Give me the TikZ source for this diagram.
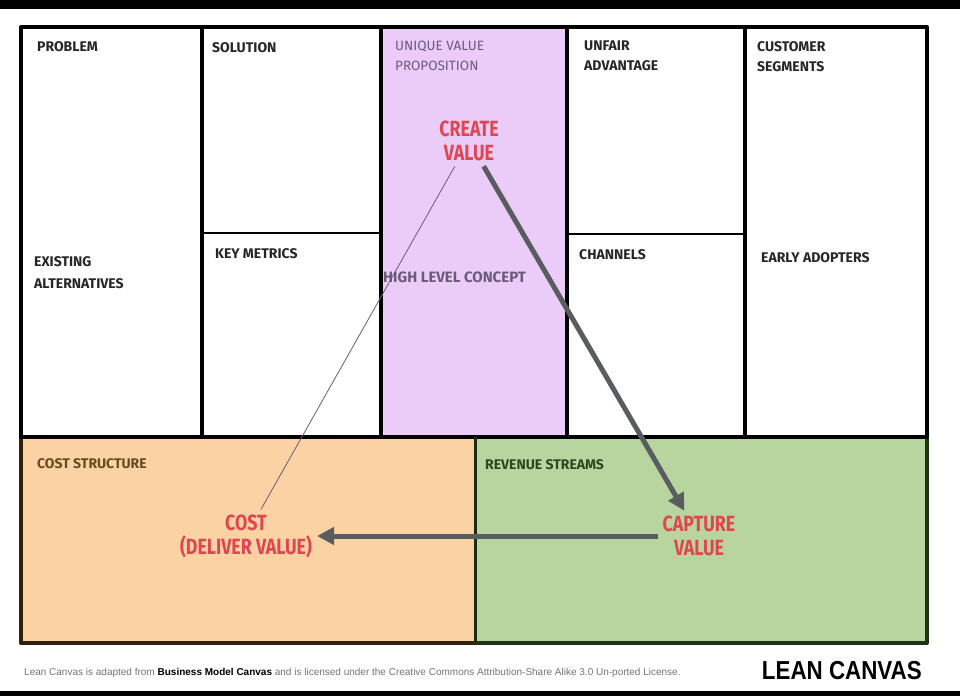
\documentclass[tikz,border=0pt]{standalone}
\usepackage{fontspec}
\setmainfont{Fira Sans}
\newfontfamily\narrowfont[FakeStretch=0.81]{Fira Sans}
\newfontfamily\footfont{Liberation Sans}
\newfontfamily\titlefont[FakeStretch=0.86]{Liberation Sans}
\usetikzlibrary{arrows.meta}

\definecolor{uvpfill}{HTML}{EBCBF8}
\definecolor{costfill}{HTML}{FBD2A4}
\definecolor{revfill}{HTML}{B9D59F}
\definecolor{valred}{HTML}{E04650}
\definecolor{flowgray}{HTML}{595D60}
\definecolor{uvptext}{HTML}{6C5A7A}
\definecolor{costtext}{HTML}{6A4A20}
\definecolor{revtext}{HTML}{2C4820}

\begin{document}
\begin{tikzpicture}[x=1pt,y=-1pt,
    frame/.style={line width=4pt,line cap=round,line join=round},
    split/.style={line width=2.5pt},
    head/.style={anchor=north west,inner sep=0pt,align=left,
      font=\bfseries\fontsize{14}{20}\selectfont,text=black!85},
    value/.style={align=center,inner sep=5pt,text=valred,
      font=\narrowfont\bfseries\fontsize{22}{24}\selectfont},
    flow/.style={line width=5pt,draw=flowgray,
      -{Triangle[length=17pt,width=17pt]}}]
\useasboundingbox (0,0) rectangle (960,696);

% Screen bars above and below
\fill[black] (0,0) rectangle (960,8.5);
\fill[black] (0,690.5) rectangle (960,696);

% Coloured blocks
\fill[uvpfill] (381,27) rectangle (567,437);
\fill[costfill] (21,437) rectangle (475,643);
\fill[revfill] (475,437) rectangle (927,643);

% Outer frame and the dividing lines
\draw[frame] (21,437) -- (21,27) -- (927,27) -- (927,437);
\draw[frame,draw=costtext!45!black] (21,437) -- (21,643) -- (475,643);
\draw[frame,draw=revtext!70!black] (475,643) -- (927,643) -- (927,437);
\draw[frame] (21,437) -- (927,437);
\foreach \x in {202,381,567,745}
  \draw[frame] (\x,27) -- (\x,437);
\draw[split] (202,233) -- (381,233);
\draw[split] (567,234) -- (745,234);
\draw[line width=3pt,draw=revtext!60!black] (475,437) -- (475,643);

% Box headings
\node[head] (problem) at (37,41) {PROBLEM};
\node[head] (solution) at (212,42) {SOLUTION};
\node[head,text=uvptext,font=\fontsize{13.5}{20}\selectfont] (uvp) at (395,41)
    {UNIQUE VALUE\\PROPOSITION};
\node[head] (unfair) at (584,41) {UNFAIR\\ADVANTAGE};
\node[head] (segments) at (757,41) {CUSTOMER\\SEGMENTS};
\node[head,font=\bfseries\fontsize{14}{22}\selectfont] (existing) at (34,256)
    {EXISTING\\ALTERNATIVES};
\node[head] (metrics) at (215,248) {KEY METRICS};
\node[head,text=uvptext,font=\bfseries\fontsize{15}{20}\selectfont] (concept) at (383,272)
    {HIGH LEVEL CONCEPT};
\node[head] (channels) at (579,249) {CHANNELS};
\node[head] (adopters) at (761,252) {EARLY ADOPTERS};
\node[head,text=costtext] (coststruct) at (37,458) {COST STRUCTURE};
\node[head,text=revtext] (revenue) at (485,459) {REVENUE STREAMS};

% Value triangle
\node[value] (create) at (469,141) {CREATE\\VALUE};
\node[value] (cost) at (246,536) {COST\\(DELIVER VALUE)};
\node[value] (capture) at (699,536) {CAPTURE\\VALUE};
\draw[line width=0.8pt,draw=uvptext] (create) -- (cost);
\draw[flow] (create) -- (capture);
\draw[flow] (capture) -- (cost);

% Footer
\node[anchor=base west,inner sep=0pt,text=black!55,
    font=\footfont\fontsize{10}{12}\selectfont] (license) at (24,675)
    {Lean Canvas is adapted from \textcolor{black}{\textbf{Business Model Canvas}}
     and is licensed under the Creative Commons Attribution-Share Alike 3.0 Un-ported License.};
\node[anchor=base east,inner sep=0pt,
    font=\titlefont\bfseries\fontsize{26}{26}\selectfont] (title) at (922,679) {LEAN CANVAS};
\end{tikzpicture}
\end{document}
